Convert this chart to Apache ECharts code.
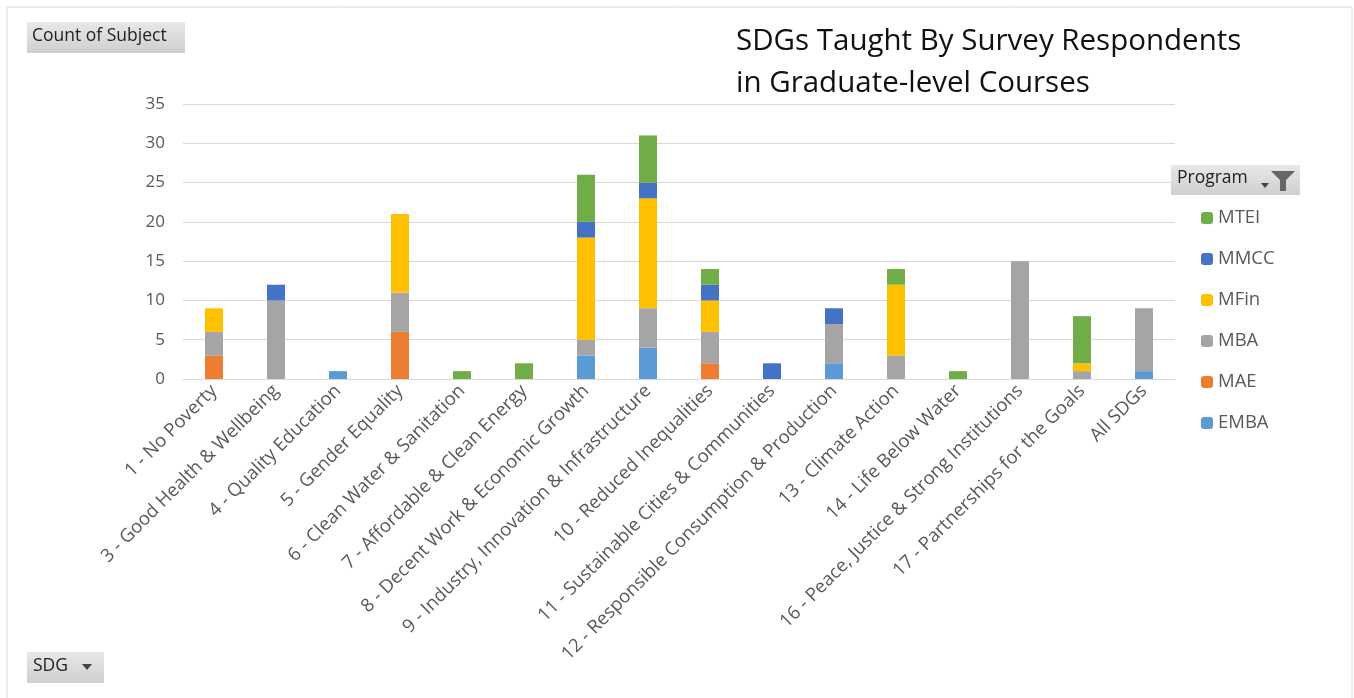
<!DOCTYPE html>
<html><head><meta charset="utf-8">
<script src="https://cdn.jsdelivr.net/npm/echarts@6/dist/echarts.min.js"></script>
<style>html,body{margin:0;padding:0;background:#fff}#c{width:1354px;height:698px}</style>
</head><body><div id="c"></div>
<script>
const categories = ['1 - No Poverty','3 - Good Health & Wellbeing','4 - Quality Education','5 - Gender Equality','6 - Clean Water & Sanitation','7 - Affordable & Clean Energy','8 - Decent Work & Economic Growth','9 - Industry, Innovation & Infrastructure','10 - Reduced Inequalities','11 - Sustainable Cities & Communities','12 - Responsible Consumption & Production','13 - Climate Action','14 - Life Below Water','16 - Peace, Justice & Strong Institutions','17 - Partnerships for the Goals','All SDGs'];
const EMBA = [null,null,1,null,null,null,3,4,null,null,2,null,null,null,null,1];
const MAE  = [3,null,null,6,null,null,null,null,2,null,null,null,null,null,null,null];
const MBA  = [3,10,null,5,null,null,2,5,4,null,5,3,null,15,1,8];
const MFin = [3,null,null,10,null,null,13,14,4,null,null,9,null,null,1,null];
const MMCC = [null,2,null,null,null,null,2,2,2,2,2,null,null,null,null,null];
const MTEI = [null,null,null,null,1,2,6,6,2,null,null,2,1,null,6,null];
const yTicks = {min:0,max:35,interval:5};
const seriesNames = ['EMBA','MAE','MBA','MFin','MMCC','MTEI'];
const seriesData = [EMBA,MAE,MBA,MFin,MMCC,MTEI];
const colors = ['#5B9BD5','#ED7D31','#A5A5A5','#FFC000','#4472C4','#70AD47'];
const FONT = '"Open Sans", Lato, sans-serif';

const chart = echarts.init(document.getElementById('c'));
const btnGrad = new echarts.graphic.LinearGradient(0,0,0,1,[{offset:0,color:'#e8e8e8'},{offset:1,color:'#cfcfcf'}]);
chart.setOption({
  animation:false,
  backgroundColor:'#fff',
  textStyle:{fontFamily:FONT},
  title:{text:'SDGs Taught By Survey Respondents\nin Graduate-level Courses',left:731,top:16,
    textStyle:{fontFamily:FONT,fontSize:29.5,fontWeight:'normal',color:'#111',lineHeight:42}},
  legend:{orient:'vertical',left:1196,top:203,itemWidth:12,itemHeight:12,itemGap:21,
    data:['MTEI','MMCC','MFin','MBA','MAE','EMBA'],
    textStyle:{fontFamily:FONT,fontSize:18.5,color:'#595959',lineHeight:20}},
  grid:{left:183,right:179,top:104,bottom:319,containLabel:false},
  xAxis:{type:'category',data:categories,
    axisLine:{lineStyle:{color:'#d9d9d9'}},axisTick:{show:false},
    axisLabel:{rotate:45,interval:0,fontSize:18.5,color:'#595959',fontFamily:FONT,margin:9}},
  yAxis:{type:'value',min:yTicks.min,max:yTicks.max,interval:yTicks.interval,
    axisLine:{show:false},axisTick:{show:false},
    axisLabel:{fontSize:17,color:'#595959',fontFamily:FONT,margin:18},
    splitLine:{lineStyle:{color:'#d9d9d9',width:1}}},
  series:seriesNames.map((n,i)=>({name:n,type:'bar',stack:'t',data:seriesData[i],
    barWidth:'29%',itemStyle:{color:colors[i]}})),
  graphic:[
    {type:'rect',shape:{x:7,y:7,width:1345,height:700},style:{fill:'none',stroke:'#d9d9d9',lineWidth:1},silent:true,z:-1},
    {type:'rect',shape:{x:27,y:22,width:158,height:31},style:{fill:btnGrad}},
    {type:'text',x:32,y:27,style:{text:'Count of Subject',fontSize:17.5,fill:'#222',fontFamily:FONT}},
    {type:'rect',shape:{x:27,y:652,width:77,height:31},style:{fill:btnGrad}},
    {type:'text',x:33,y:657,style:{text:'SDG',fontSize:17.5,fill:'#222',fontFamily:FONT}},
    {type:'polygon',shape:{points:[[82,664],[92,664],[87,670]]},style:{fill:'#444'}},
    {type:'rect',shape:{x:1171,y:165,width:129,height:30},style:{fill:btnGrad}},
    {type:'text',x:1177,y:169,style:{text:'Program',fontSize:17.5,fill:'#222',fontFamily:FONT}},
    {type:'polygon',shape:{points:[[1261,183],[1269,183],[1265,188]]},style:{fill:'#444'}},
    {type:'polygon',shape:{points:[[1271,171],[1295,171],[1286,180],[1286,191],[1280,191],[1280,180]]},style:{fill:'#666'}}
  ]
});
</script></body></html>
